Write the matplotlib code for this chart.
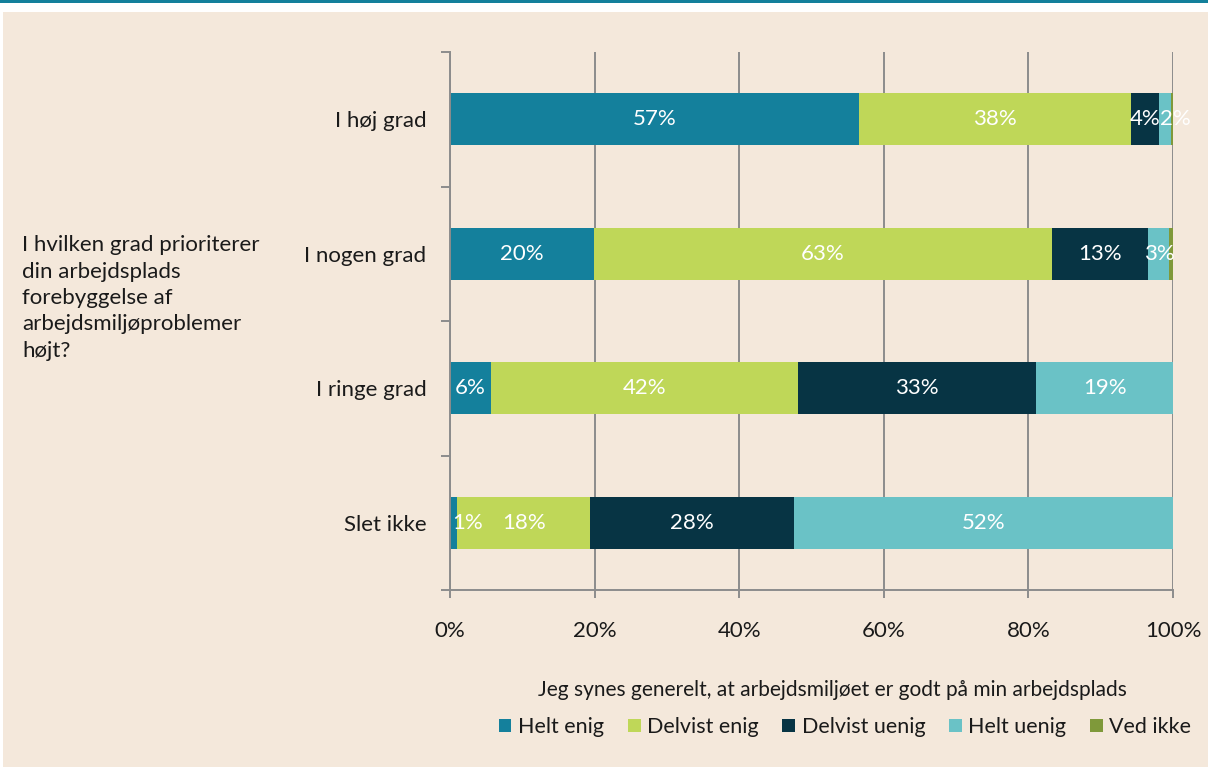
#!/usr/bin/env python3

import numpy as np
import matplotlib
matplotlib.use('Agg')
import matplotlib.pyplot as plt
from matplotlib.patches import Rectangle

plt.rcParams['font.family'] = ['Lato', 'DejaVu Sans']

# data (percent of respondents per answer group)
categories = ['I høj grad', 'I nogen grad', 'I ringe grad', 'Slet ikke']
series = ['Helt enig', 'Delvist enig', 'Delvist uenig', 'Helt uenig', 'Ved ikke']
helt_enig = [56.6, 19.9, 5.7, 1.0]
delvist_enig = [37.6, 63.4, 42.4, 18.4]
delvist_uenig = [3.9, 13.3, 33.0, 28.2]
helt_uenig = [1.6, 2.9, 18.9, 52.4]
ved_ikke = [0.3, 0.5, 0.0, 0.0]
xticks = [0, 20, 40, 60, 80, 100]

colors = ['#14809c', '#bfd758', '#073444', '#6ac2c6', '#7f993a']
bg = '#f4e8db'
grey = '#8c8c8c'
txt = '#1a1a1a'

values = [helt_enig, delvist_enig, delvist_uenig, helt_uenig, ved_ikke]

fig = plt.figure(figsize=(12.08, 7.67), dpi=100, facecolor='white')
# background panel and top band
fig.patches.append(Rectangle((3/1208, 0), 1, 1 - 12/767, transform=fig.transFigure,
                             facecolor=bg, edgecolor='none', zorder=-10))
fig.patches.append(Rectangle((0, 1 - 3/767), 1, 3/767, transform=fig.transFigure,
                             facecolor='#13809b', edgecolor='none', zorder=-10))

ax = fig.add_axes([450/1208, 1 - 590/767, 723/1208, 538/767])
ax.set_facecolor('none')

y = np.arange(len(categories))
left = np.zeros(len(categories))
prev = [-10.0] * len(categories)  # last label position per row, to keep labels apart
for name, vals, c in zip(series, values, colors):
    vals = np.array(vals)
    ax.barh(y, vals, left=left, height=0.39, color=c, label=name, zorder=3)
    if name != 'Ved ikke':
        for i in range(len(categories)):
            if vals[i] > 0:
                xc = max(left[i] + vals[i] / 2, 2.5, prev[i] + 4.2)
                prev[i] = xc
                ax.text(xc, y[i], '%d%%' % round(vals[i]), color='white',
                        ha='center', va='center', fontsize=16, zorder=4)
    left += vals

ax.set_xlim(0, 100)
ax.set_ylim(3.5, -0.5)
ax.set_xticks(xticks)
ax.set_xticklabels(['%d%%' % v for v in xticks], fontsize=16, color=txt)
ax.set_yticks(y)
ax.set_yticklabels(categories, fontsize=16, color=txt)
ax.set_yticks(np.arange(-0.5, 4, 1), minor=True)
ax.tick_params(axis='y', which='major', length=0, pad=17)
ax.tick_params(axis='y', which='minor', length=6.5, width=1.4, color=grey)
ax.tick_params(axis='x', length=6, width=1.4, color=grey, pad=16)

ax.grid(axis='x', color=grey, linewidth=1.4, zorder=0)
for s in ['top', 'right']:
    ax.spines[s].set_visible(False)
for s in ['left', 'bottom']:
    ax.spines[s].set_color(grey)
    ax.spines[s].set_linewidth(1.4)
    ax.spines[s].set_zorder(5)

fig.text(22/1208, 1 - 298/767,
         'I hvilken grad prioriterer\ndin arbejdsplads\nforebyggelse af\narbejdsmiljøproblemer\nhøjt?',
         ha='left', va='center', fontsize=16, color=txt, linespacing=1.4)

fig.text(832/1208, 1 - 690/767,
         'Jeg synes generelt, at arbejdsmiljøet er godt på min arbejdsplads',
         ha='center', va='center', fontsize=15, color=txt)
leg = fig.legend(loc='center', bbox_to_anchor=(845/1208, 1 - 727/767), ncol=5,
                 frameon=False, fontsize=15.5, handlelength=0.6, handleheight=0.6,
                 handletextpad=0.3, columnspacing=1.1)
for t in leg.get_texts():
    t.set_color(txt)

fig.savefig('out.png', dpi=100, facecolor=fig.get_facecolor())
